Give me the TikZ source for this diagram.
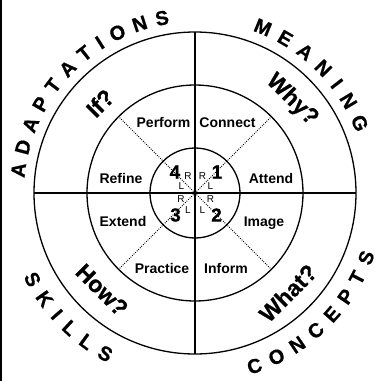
\documentclass[tikz,border=0pt]{standalone}
\usepackage{fontspec}
\setmainfont{Liberation Sans}
\newfontfamily\heavy[FakeBold=0.7]{Liberation Sans Bold}
\begin{document}
\begin{tikzpicture}[x=1pt,y=1pt,
  ring/.style={line width=1.3pt},
  axis/.style={line width=1.3pt},
  diag/.style={line width=0.9pt, dash pattern=on 0.9pt off 1.3pt},
  outer/.style={font=\fontsize{20}{20}\heavy, inner sep=0pt, anchor=center},
  quad/.style={font=\fontsize{23}{23}\heavy, inner sep=0pt, anchor=center},
  lbl/.style={font=\fontsize{14}{14}\selectfont\bfseries, inner sep=0pt, anchor=base},
  num/.style={font=\fontsize{19}{19}\heavy, inner sep=0pt, anchor=center},
  rl/.style={font=\fontsize{10}{10}\selectfont, inner sep=0pt, anchor=center}]
\useasboundingbox (-195,-188) rectangle (180,193);
\fill[black] (-195,-188) rectangle (-193,193);
\coordinate (C) at (0,0);
% circles
\draw[ring] (C) circle (45);
\draw[ring] (C) circle (108);
\draw[ring] (C) circle (161);
% axes
\coordinate (T) at (90:161);
\coordinate (B) at (270:161);
\coordinate (L) at (180:161);
\coordinate (R) at (0:161);
\draw[axis] (T) -- (B);
\draw[axis] (L) -- (R);
% dotted diagonals
\foreach \a in {45,135,225,315} {
  \coordinate (d\a) at (\a:108);
  \draw[diag] (C) -- (d\a);
}
% middle ring labels
\node[lbl] (perform) at (-31.5,66) {Perform};
\node[lbl] (connect) at (32.5,66) {Connect};
\node[lbl] (refine) at (-74,10) {Refine};
\node[lbl] (attend) at (76,10) {Attend};
\node[lbl] (extend) at (-72,-33.5) {Extend};
\node[lbl] (image) at (69,-33.5) {Image};
\node[lbl] (practice) at (-33,-80) {Practice};
\node[lbl] (inform) at (31,-80) {Inform};
% numbers
\node[num] (n4) at (-20,21) {4};
\node[num] (n1) at (22,21) {1};
\node[num] (n3) at (-19.5,-22) {3};
\node[num] (n2) at (21.5,-22) {2};
% R / L
\node[rl] (r1) at (7.5,17) {R};
\node[rl] (l1) at (15.5,6.5) {L};
\node[rl] (r4) at (-7,17) {R};
\node[rl] (l4) at (-13.5,6.5) {L};
\node[rl] (r3) at (-14,-6.5) {R};
\node[rl] (l3) at (-7,-17) {L};
\node[rl] (r2) at (15.5,-6.5) {R};
\node[rl] (l2) at (7.5,-17) {L};
% quadrant questions
\node[quad, rotate=45] (qif) at (-95,90) {If?};
\node[quad, rotate=-45] (qwhy) at (97,93) {Why?};
\node[quad, rotate=-45] (qhow) at (-93,-97) {How?};
\node[quad, rotate=45] (qwhat) at (93,-100) {What?};
% outer words
\foreach \ch/\a [count=\i] in {A/172.6, D/165.03, A/157.46, P/150.04, T/142.93, A/135.66, T/128.39, I/122.34, O/115.83, N/108.11, S/100.69}
  \node[outer, rotate=\a-90] (adap\i) at (\a:178) {\ch};
\foreach \ch/\a [count=\i] in {M/67.7, E/59.72, A/52.04, N/44.21, I/37.59, N/30.97, G/22.99}
  \node[outer, rotate=\a-90] (mean\i) at (\a:179) {\ch};
\foreach \ch/\a [count=\i] in {S/208, K/215.18, I/221.33, L/227.19, L/233.93, S/240.81}
  \node[outer, rotate=\a+90] (skil\i) at (\a:184) {\ch};
\foreach \ch/\a [count=\i] in {C/289, O/296.48, N/303.96, C/311.29, E/318.47, P/325.51, T/332.40, S/339.29}
  \node[outer, rotate=\a+90] (conc\i) at (\a:183) {\ch};
\end{tikzpicture}
\end{document}
